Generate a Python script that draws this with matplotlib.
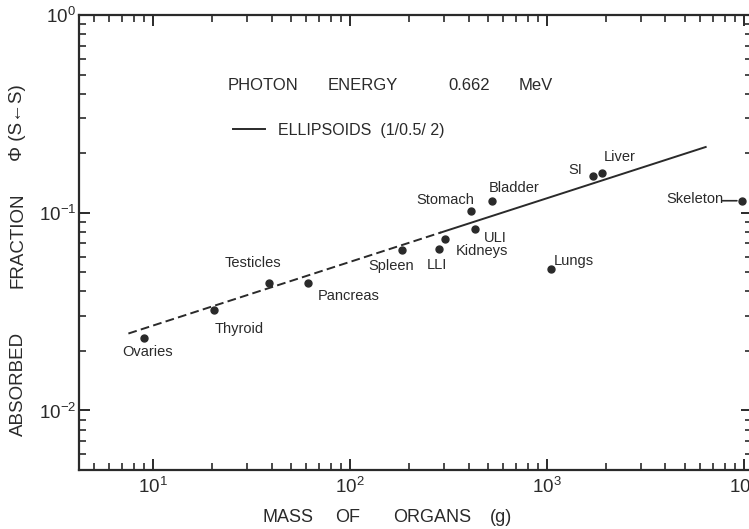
import matplotlib
matplotlib.use("Agg")
import matplotlib.pyplot as plt
from matplotlib.ticker import LogLocator, NullFormatter

plt.rcParams['font.family'] = ['Liberation Sans', 'DejaVu Sans']
plt.rcParams['mathtext.fontset'] = 'custom'
plt.rcParams['mathtext.rm'] = 'Liberation Sans'
plt.rcParams['mathtext.it'] = 'Liberation Sans:italic'

INK = '#2a2a2a'

# ---- data ----
organs = ['Ovaries', 'Thyroid', 'Testicles', 'Pancreas', 'Spleen', 'LLI',
          'Kidneys', 'ULI', 'Stomach', 'Bladder', 'SI', 'Liver', 'Lungs', 'Skeleton']
mass_g = [9.0, 20.4, 38.9, 61.4, 183, 283, 305, 431, 411, 526, 1718, 1895, 1044, 9840]
phi = [0.0233, 0.0323, 0.0440, 0.0443, 0.0648, 0.0653, 0.0736, 0.0830,
       0.1015, 0.1146, 0.153, 0.159, 0.0517, 0.115]
# label offsets (pixels) relative to each point
label_dx = [4, 25, -16, 40, -10, -2, 37, 20, -26, 22, -18, 18, 23, -48]
label_dy = [-14, -19, 20, -13, -16, -16, -12, -9, 11, 13, 6, 16, 8, 2]

# ellipsoid curve: dashed part and solid part (endpoints)
ell_dash_x = [7.5, 290]
ell_dash_y = [0.0245, 0.0795]
ell_solid_x = [290, 6400]
ell_solid_y = [0.0795, 0.215]

W, H = 749, 529
fig = plt.figure(figsize=(W / 100, H / 100), dpi=100)
ax = fig.add_axes([79 / W, 1 - 470 / H, (752 - 79) / W, (470 - 15) / H])
ax.set_xscale('log')
ax.set_yscale('log')
ax.set_xlim(4.21, 11000)
ax.set_ylim(0.005, 1.0)

ax.plot(ell_dash_x, ell_dash_y, color=INK, lw=1.4, dashes=(4.5, 2.2))
line_solid, = ax.plot(ell_solid_x, ell_solid_y, color=INK, lw=1.4)

ax.plot(mass_g, phi, 'o', color=INK, ms=5, clip_on=False, zorder=5)

for name, m, p, dx, dy in zip(organs, mass_g, phi, label_dx, label_dy):
    ax.annotate(name, (m, p), xytext=(dx, dy), textcoords='offset pixels',
                ha='center', va='center', fontsize=10.5, color=INK)
# short leader for Skeleton
sk = organs.index('Skeleton')
ax.annotate('', (mass_g[sk], phi[sk]), xytext=(-20, 0), textcoords='offset pixels',
            arrowprops=dict(arrowstyle='-', color=INK, lw=1.2, shrinkA=0, shrinkB=4),
            annotation_clip=False)

# ticks
for a in (ax.xaxis, ax.yaxis):
    a.set_major_locator(LogLocator(base=10, numticks=10))
    a.set_minor_locator(LogLocator(base=10, subs=range(2, 10), numticks=20))
    a.set_minor_formatter(NullFormatter())
ax.tick_params(which='both', direction='in', top=True, right=True, colors=INK)
ax.tick_params(which='major', length=8, width=1.4, labelsize=13.5)
ax.tick_params(which='minor', length=5, width=1.2)
ax.tick_params(axis='x', which='major', pad=5)
ax.tick_params(axis='y', which='major', pad=2)
for s in ax.spines.values():
    s.set_linewidth(1.6)
    s.set_color(INK)

# legend
leg = ax.legend([line_solid], ['ELLIPSOIDS  (1/0.5/ 2)'], frameon=False,
                loc='center left', bbox_to_anchor=(233 / W, 1 - 130 / H),
                bbox_transform=fig.transFigure, borderpad=0, borderaxespad=0,
                handlelength=2.0, handletextpad=0.8, fontsize=11.5)
for t in leg.get_texts():
    t.set_color(INK)

# title-like annotation
for txt, x in [('PHOTON', 228), ('ENERGY', 328), ('0.662', 448), ('MeV', 519)]:
    fig.text(x / W, 1 - 86 / H, txt, ha='left', va='center', fontsize=12, color=INK)

# x label
for txt, x in [('MASS', 263), ('OF', 335), ('ORGANS', 393), ('(g)', 490)]:
    fig.text(x / W, 1 - 517 / H, txt, ha='left', va='center', fontsize=13, color=INK)

# y label
for txt, y, fs in [('ABSORBED', 384, 13.5), ('FRACTION', 240, 13.5), ('Φ (S←S)', 123, 13.5)]:
    fig.text(18 / W, 1 - y / H, txt, rotation=90, ha='center', va='center',
             fontsize=fs, color=INK)

fig.savefig('out.png', dpi=100)
